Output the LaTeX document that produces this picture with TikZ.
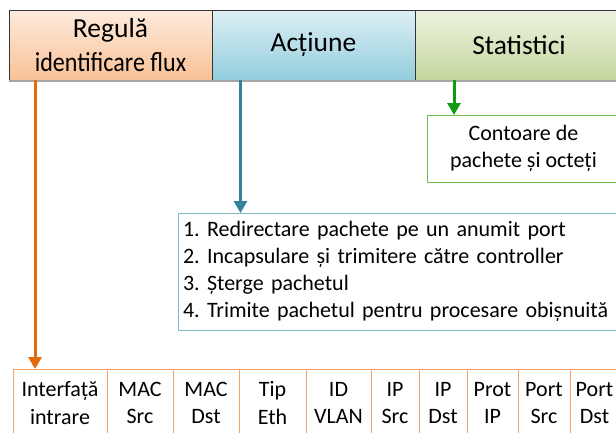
\documentclass[tikz,border=0pt]{standalone}
\usepackage{fontspec}
\setmainfont{Carlito}
\frenchspacing
\usetikzlibrary{arrows.meta,positioning}
\definecolor{oarrow}{HTML}{E36C09}
\definecolor{tarrow}{HTML}{31849B}
\definecolor{garrow}{HTML}{139A13}
\definecolor{gborder}{HTML}{6CBF4C}
\definecolor{tborder}{HTML}{7FB9C7}
\definecolor{oborder}{HTML}{F5A264}
\definecolor{otop}{HTML}{FDEBDD}
\definecolor{obot}{HTML}{F9C196}
\definecolor{btop}{HTML}{DDEFF5}
\definecolor{bbot}{HTML}{93CDDD}
\definecolor{gtop}{HTML}{EDF2E0}
\definecolor{gbot}{HTML}{C4D79D}
\definecolor{edge}{HTML}{333333}
\tikzset{
  head/.style={draw=edge, line width=0.8pt, minimum height=70pt, inner sep=0pt, outer sep=0pt, anchor=north west,
    font=\fontsize{27.5}{33.5}\selectfont, align=center},
  body/.style={font=\fontsize{22}{26.8}\selectfont},
  cell/.style={body, draw=oborder, line width=1pt, minimum height=68pt, inner sep=0pt, outer sep=0pt, anchor=north west,
    align=center, font=\fontsize{22}{27.5}\selectfont},
  conn/.style={line width=3pt, -{Triangle[width=13pt,length=12pt]}},
}
\begin{document}
\begin{tikzpicture}[x=1pt,y=-1pt]
\useasboundingbox (0,0) rectangle (616,432);
\clip (0,0) rectangle (616,432);
% top bar
\node[head, top color=otop, bottom color=obot, minimum width=203pt] (rule) at (9,10) {Regulă\\\scalebox{0.875}[1]{identificare flux}};
\node[head, top color=btop, bottom color=bbot, minimum width=203pt] (act) at (212,10) {Acțiune};
\node[head, top color=gtop, bottom color=gbot, minimum width=212pt, text width=202pt] (stat) at (415,10) {\hspace*{-4pt}Statistici};
\draw[gray!70, line width=1.2pt] (rule.south west) ++(0,1) -- ++(620,0);
% green box
\node[body, draw=gborder, line width=1pt, outer sep=0pt, anchor=north west, minimum width=193pt, minimum height=67pt,
  inner sep=0pt, align=center] (cnt) at (427,115) {Contoare de\\pachete și octeți};
% list box
\node[body, draw=tborder, line width=1pt, outer sep=0pt, anchor=north west, text width=432pt, inner xsep=5pt,
  minimum height=117pt, align=left] (list) at (178,213)
  {1. Redirectare pachete pe un anumit port\\
   2. Incapsulare și trimitere către controller\\
   3. Șterge pachetul\\
   4. Trimite pachetul pentru procesare obișnuită};
% bottom cells
\node[cell, minimum width=94pt] (c1) at (13,369) {Interfață\\intrare};
\node[cell, minimum width=66pt] (c2) at (c1.north east) {MAC\\Src};
\node[cell, minimum width=66pt] (c3) at (c2.north east) {MAC\\Dst};
\node[cell, minimum width=67pt] (c4) at (c3.north east) {Tip\\Eth};
\node[cell, minimum width=65pt] (c5) at (c4.north east) {ID\\VLAN};
\node[cell, minimum width=48pt] (c6) at (c5.north east) {IP\\Src};
\node[cell, minimum width=48pt] (c7) at (c6.north east) {IP\\Dst};
\node[cell, minimum width=51pt] (c8) at (c7.north east) {Prot\\IP};
\node[cell, minimum width=52pt] (c9) at (c8.north east) {Port\\Src};
\node[cell, minimum width=49pt] (c10) at (c9.north east) {Port\\Dst};
% connectors
\coordinate (o1) at ([xshift=26pt]rule.south west);
\coordinate (t1) at ([xshift=28.5pt]act.south west);
\coordinate (g1) at ([xshift=39pt]stat.south west);
\draw[conn, oarrow] (o1) -- (o1 |- c1.north);
\draw[conn, tarrow] (t1) -- (t1 |- list.north);
\draw[conn, garrow] (g1) -- (g1 |- cnt.north);
\end{tikzpicture}
\end{document}
